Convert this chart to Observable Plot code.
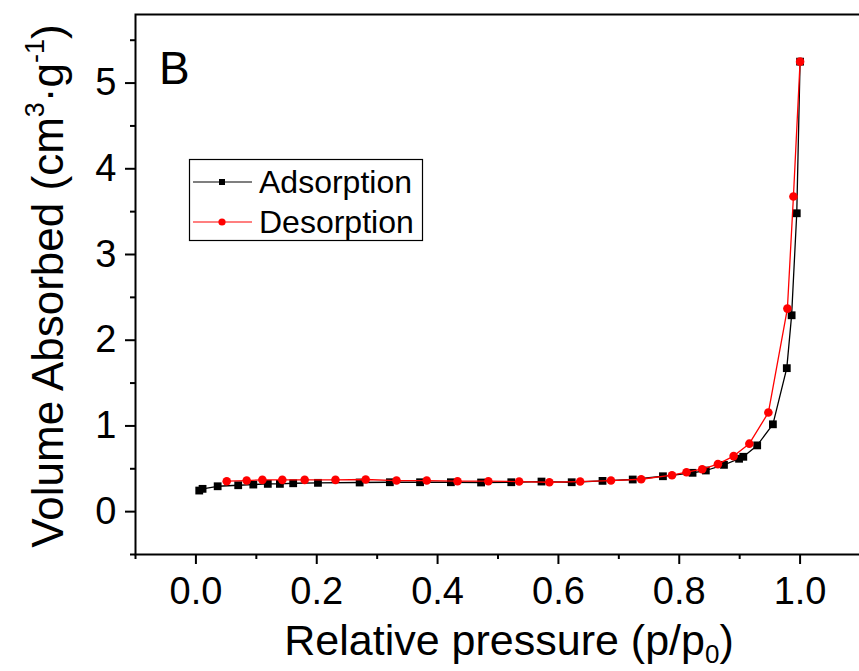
<!DOCTYPE html>
<html>
<head>
<meta charset="utf-8">
<script src="https://cdn.jsdelivr.net/npm/d3@7"></script>
<script src="https://cdn.jsdelivr.net/npm/@observablehq/plot@0.6"></script>
<style>
  html, body { margin: 0; padding: 0; background: #fff; }
  #chart svg { display: block; }
</style>
</head>
<body>
<div id="chart"></div>
<script>
// ---- Data ----
const adsP = [0.0055, 0.011, 0.036, 0.070, 0.095, 0.119, 0.139, 0.161, 0.202, 0.271, 0.321, 0.371, 0.422, 0.472, 0.522, 0.572, 0.622, 0.673, 0.723, 0.773, 0.822, 0.844, 0.874, 0.899, 0.906, 0.929, 0.955, 0.978, 0.986, 0.9945, 1.000];
const adsV = [0.246, 0.266, 0.296, 0.308, 0.316, 0.324, 0.324, 0.331, 0.336, 0.340, 0.343, 0.343, 0.343, 0.340, 0.343, 0.351, 0.343, 0.359, 0.375, 0.413, 0.453, 0.480, 0.546, 0.617, 0.640, 0.773, 1.019, 1.674, 2.291, 3.481, 5.25];
const desP = [1.000, 0.989, 0.979, 0.9475, 0.916, 0.890, 0.864, 0.838, 0.812, 0.788, 0.737, 0.687, 0.636, 0.585, 0.535, 0.484, 0.433, 0.382, 0.332, 0.281, 0.231, 0.180, 0.143, 0.110, 0.084, 0.051];
const desV = [5.25, 3.677, 2.369, 1.156, 0.793, 0.648, 0.554, 0.495, 0.460, 0.425, 0.378, 0.363, 0.351, 0.343, 0.351, 0.355, 0.355, 0.363, 0.363, 0.375, 0.371, 0.371, 0.371, 0.371, 0.363, 0.355];
const seriesNames = ["Adsorption", "Desorption"];
const xMajorTicks = [0, 0.2, 0.4, 0.6, 0.8, 1.0];
const xMinorTicks = [-0.1, 0.1, 0.3, 0.5, 0.7, 0.9, 1.1];
const yMajorTicks = [0, 1, 2, 3, 4, 5];
const yMinorTicks = [-0.5, 0.5, 1.5, 2.5, 3.5, 4.5, 5.5];

const ads = adsP.map((p, i) => ({p, v: adsV[i]}));
const des = desP.map((p, i) => ({p, v: desV[i]}));

const FONT = "Arial, 'Liberation Sans', sans-serif";

const chart = Plot.plot({
  width: 859,
  height: 671,
  marginLeft: 135,
  marginRight: -1,
  marginTop: 14,
  marginBottom: 117,
  style: {fontFamily: FONT, color: "black", background: "white"},
  x: {domain: [-0.1, 1.1]},
  y: {domain: [-0.5, 5.8]},
  marks: [
    Plot.axisX({ticks: xMajorTicks, tickSize: 10, tickPadding: 13, tickFormat: d3.format(".1f"), fontSize: 38, label: null, strokeWidth: 2}),
    Plot.axisX({ticks: xMinorTicks, tickSize: 5, tickFormat: () => "", label: null, strokeWidth: 2}),
    Plot.axisY({ticks: yMajorTicks, tickSize: 10, tickPadding: 9, tickFormat: d3.format("d"), fontSize: 38, label: null, strokeWidth: 2}),
    Plot.axisY({ticks: yMinorTicks, tickSize: 5, tickFormat: () => "", label: null, strokeWidth: 2}),
    Plot.frame({stroke: "black", strokeWidth: 2}),
    Plot.line(ads, {x: "p", y: "v", stroke: "black", strokeWidth: 1.3}),
    Plot.dot(ads, {x: "p", y: "v", symbol: "square", fill: "black", stroke: "none", r: 4.4}),
    Plot.line(des, {x: "p", y: "v", stroke: "#ff0000", strokeWidth: 1.3}),
    Plot.dot(des, {x: "p", y: "v", symbol: "circle", fill: "#ff0000", stroke: "none", r: 4.3})
  ]
});

document.getElementById("chart").appendChild(chart);

const svg = d3.select(chart);

// Panel letter
svg.append("text").attr("x", 159).attr("y", 84).attr("text-anchor", "start")
  .attr("font-family", FONT).attr("font-size", 46).attr("fill", "black").text("B");

// X axis title
const xt = svg.append("text").attr("x", 509).attr("y", 655).attr("text-anchor", "middle")
  .attr("font-family", FONT).attr("font-size", 43).attr("fill", "black");
xt.append("tspan").text("Relative pressure (p/p");
xt.append("tspan").attr("font-size", 26).attr("dy", 8).text("0");
xt.append("tspan").attr("dy", -8).text(")");

// Y axis title
const yt = svg.append("text").attr("transform", "translate(63,286) rotate(-90)").attr("text-anchor", "middle")
  .attr("font-family", FONT).attr("font-size", 44).attr("fill", "black");
yt.append("tspan").text("Volume Absorbed (cm");
yt.append("tspan").attr("font-size", 27).attr("dy", -19).text("3");
yt.append("tspan").attr("dy", 19).text("·g");
yt.append("tspan").attr("font-size", 27).attr("dy", -19).text("-1");
yt.append("tspan").attr("dy", 19).text(")");

// Legend
const lg = svg.append("g").attr("text-anchor", "start");
lg.append("rect").attr("x", 189.5).attr("y", 159.5).attr("width", 233).attr("height", 81)
  .attr("fill", "white").attr("stroke", "black").attr("stroke-width", 1.2);
const legendRows = [
  {name: seriesNames[0], color: "black", sym: "square", y: 182},
  {name: seriesNames[1], color: "#ff0000", sym: "circle", y: 222}
];
legendRows.forEach(r => {
  lg.append("line").attr("x1", 193).attr("x2", 252).attr("y1", r.y).attr("y2", r.y)
    .attr("stroke", r.color).attr("stroke-width", 1.2);
  if (r.sym === "square") {
    lg.append("rect").attr("x", 219).attr("y", r.y - 3).attr("width", 6).attr("height", 6).attr("fill", r.color);
  } else {
    lg.append("circle").attr("cx", 222).attr("cy", r.y).attr("r", 3.6).attr("fill", r.color);
  }
  lg.append("text").attr("x", 259).attr("y", r.y + 11).attr("text-anchor", "start")
    .attr("font-family", FONT).attr("font-size", 32).attr("fill", "black").text(r.name);
});
</script>
</body>
</html>
